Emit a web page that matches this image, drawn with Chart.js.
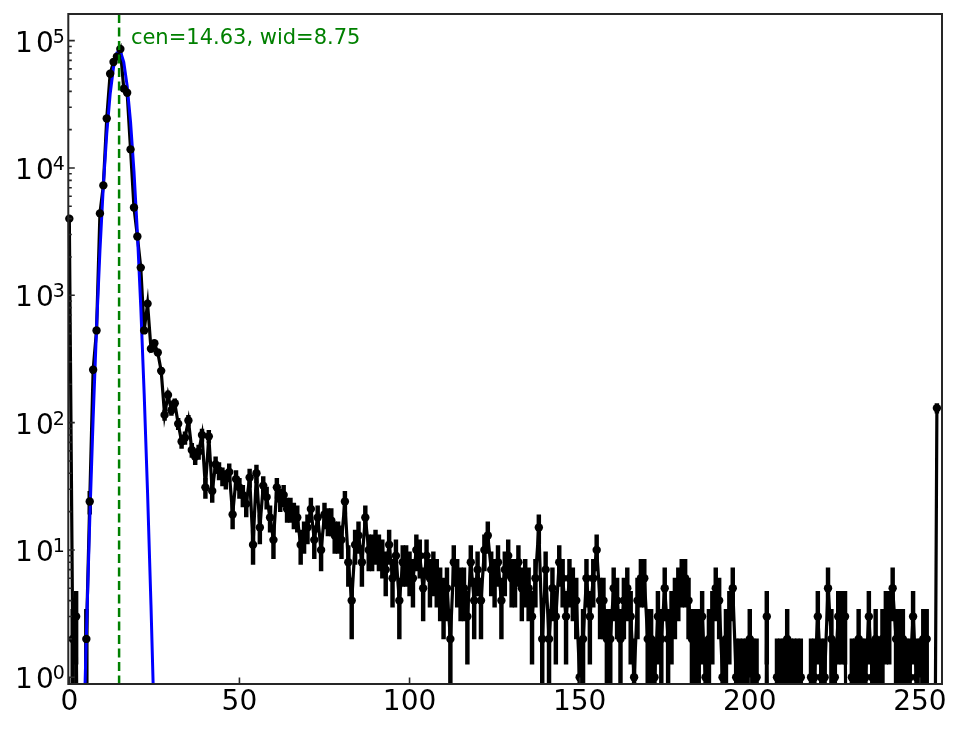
<!DOCTYPE html>
<html>
<head>
<meta charset="utf-8">
<script src="https://cdn.jsdelivr.net/npm/chart.js@4.4.1/dist/chart.umd.min.js"></script>
<style>
    html, body { margin: 0; padding: 0; background: #ffffff; }
    #wrap { width: 964px; height: 729px; }
</style>
</head>
<body>
<div id="wrap"><canvas id="myChart" width="964" height="729"></canvas></div>
<script>
// Histogram counts per bin (bin index = position in the array, 0..255)
const counts = [
    4000, 2, 3, 0, 0, 2, 24, 260, 530, 4400, 7300, 24500, 55000, 68000, 75000, 86000,
    42000, 39000, 14000, 4900, 2900, 1650, 530, 860, 380, 420, 355, 255, 115, 165, 125, 142,
    98, 71, 76, 104, 61, 54, 59, 80, 31, 78, 29, 47, 42, 38, 36, 41,
    19, 36, 31, 27, 23, 37, 11, 40, 15, 32, 26, 18, 12, 31, 25, 27,
    21, 21, 19, 18, 11, 13, 15, 21, 12, 18, 10, 19, 17, 17, 13, 13,
    12, 24, 8, 4, 11, 13, 8, 18, 10, 10, 11, 10, 9, 7, 11, 6,
    9, 4, 8, 8, 7, 6, 10, 9, 5, 9, 6, 7, 6, 5, 4, 5,
    2, 8, 6, 5, 5, 3, 8, 4, 7, 4, 10, 13, 7, 6, 8, 4,
    7, 9, 6, 6, 8, 5, 6, 5, 3, 6, 15, 2, 7, 2, 5, 3,
    8, 6, 3, 6, 5, 4, 1, 2, 6, 3, 6, 10, 4, 4, 2, 2,
    5, 4, 2, 4, 5, 3, 1, 4, 6, 6, 2, 2, 1, 3, 2, 5,
    2, 3, 4, 5, 6, 6, 4, 2, 2, 2, 3, 1, 2, 3, 5, 4,
    1, 2, 3, 5, 1, 1, 1, 1, 2, 1, 1, 0, 0, 3, 0, 0,
    1, 1, 1, 2, 1, 1, 1, 1, 0, 0, 1, 1, 3, 1, 1, 5,
    2, 1, 3, 3, 3, 0, 1, 1, 2, 1, 1, 3, 1, 2, 1, 2,
    3, 3, 5, 2, 2, 2, 1, 1, 3, 1, 1, 2, 2, 0, 0, 130
];

// Gaussian fit (cen=14.63, wid=8.75), values at the bins where it is visible
const fitBins = [4, 5, 6, 7, 8, 9, 10, 11, 12, 13, 14, 15, 16, 17, 18, 19, 20, 21, 22, 23, 24, 25];
const fitValues = [0.21, 2.1, 17, 108, 553, 2240, 7250, 18600, 38100, 62000, 80300, 82700,
    67800, 44200, 22900, 9470, 3110, 814, 169, 28, 3.7, 0.39];

const fitCen = 14.63;
const annotText = "cen=14.63, wid=8.75";
const annotX = 18.1;
const annotY = 94300;

const xTickValues = [0, 50, 100, 150, 200, 250];
const xTickLabels = ["0", "50", "100", "150", "200", "250"];
const yTickValues = [1, 10, 100, 1000, 10000, 100000];
const yTickExps = ["0", "1", "2", "3", "4", "5"];

// empty bins sit far below the axis, like a clipped log plot
const FLOOR = 1e-3;
const points = counts.map((c, i) => ({ x: i, y: c > 0 ? c : FLOOR }));
const errBars = counts
    .map((c, i) => {
        const e = Math.sqrt(c);
        const lo = c - e > 0 ? c - e : FLOOR;
        return { x: i, y: [lo, c + e] };
    })
    .filter((d, i) => counts[i] > 0);
const fitPoints = fitBins.map((b, i) => ({ x: b, y: fitValues[i] }));

const FRAME = "#262626";
const FONT = '"DejaVu Sans"';
const CLIP = { left: 8, right: 8, top: 8, bottom: 0 };

// frame, inward ticks, y labels, fit centre line and label
const decorPlugin = {
    id: "decor",
    afterDatasetsDraw(chart) {
        const ctx = chart.ctx;
        const area = chart.chartArea;
        const xs = chart.scales.x;
        const ys = chart.scales.y;
        ctx.save();
        ctx.beginPath();
        ctx.rect(area.left, area.top, area.right - area.left, area.bottom - area.top);
        ctx.clip();
        const cx = xs.getPixelForValue(fitCen);
        ctx.strokeStyle = "#008000";
        ctx.lineWidth = 2.5;
        ctx.setLineDash([9, 4.5]);
        ctx.beginPath();
        ctx.moveTo(cx, area.top);
        ctx.lineTo(cx, area.bottom);
        ctx.stroke();
        ctx.restore();

        ctx.save();
        ctx.font = "21px " + FONT;
        ctx.fillStyle = "#008000";
        ctx.textBaseline = "alphabetic";
        ctx.textAlign = "left";
        ctx.fillText(annotText, xs.getPixelForValue(annotX), ys.getPixelForValue(annotY));
        ctx.restore();
    },
    afterDraw(chart) {
        const ctx = chart.ctx;
        const area = chart.chartArea;
        const xs = chart.scales.x;
        const ys = chart.scales.y;
        ctx.save();
        ctx.strokeStyle = FRAME;
        ctx.lineWidth = 1.6;
        ctx.beginPath();
        xTickValues.forEach(v => {
            const px = xs.getPixelForValue(v);
            ctx.moveTo(px, area.bottom);
            ctx.lineTo(px, area.bottom - 6.5);
        });
        yTickValues.forEach(v => {
            const py = ys.getPixelForValue(v);
            ctx.moveTo(area.left, py);
            ctx.lineTo(area.left + 6.5, py);
            for (let m = 2; m <= 9; m++) {
                const mv = v * m;
                if (mv > ys.max) break;
                const my = ys.getPixelForValue(mv);
                ctx.moveTo(area.left, my);
                ctx.lineTo(area.left + 3.5, my);
            }
        });
        ctx.stroke();
        ctx.lineWidth = 2;
        ctx.strokeRect(area.left, area.top, area.right - area.left, area.bottom - area.top);

        // y labels as 10 with a raised exponent
        ctx.fillStyle = "#000000";
        ctx.textAlign = "right";
        ctx.textBaseline = "alphabetic";
        const right = area.left - 3.5;
        yTickValues.forEach((v, i) => {
            const py = ys.getPixelForValue(v);
            ctx.font = "19px " + FONT;
            ctx.fillText(yTickExps[i], right, py + 2);
            const ew = ctx.measureText(yTickExps[i]).width;
            ctx.font = "28px " + FONT;
            const x0 = right - ew + 1;
            ctx.fillText("0", x0, py + 11);
            const zw = ctx.measureText("0").width;
            ctx.fillText("1", x0 - zw - 3, py + 11);
        });
        ctx.restore();
    }
};

new Chart(document.getElementById("myChart"), {
    type: "line",
    data: {
        datasets: [
            {
                // markers on top
                data: points,
                showLine: false,
                pointRadius: c => (counts[c.dataIndex] > 0 ? 4.2 : 0),
                pointBackgroundColor: "#000000",
                pointBorderWidth: 0,
                clip: CLIP,
            },
            {
                data: fitPoints,
                borderColor: "#0000ff",
                borderWidth: 3,
                pointRadius: 0,
                tension: 0,
                clip: 0,
            },
            {
                data: points,
                borderColor: "#000000",
                borderWidth: 3.2,
                pointRadius: 0,
                tension: 0,
                clip: CLIP,
            },
            {
                type: "bar",
                data: errBars,
                backgroundColor: "#000000",
                borderWidth: 0,
                barThickness: 3.8,
                grouped: false,
                clip: 0,
            },
        ],
    },
    options: {
        responsive: false,
        animation: false,
        events: [],
        layout: { padding: { top: 14, right: 22, left: 0, bottom: 0 } },
        plugins: {
            legend: { display: false },
            tooltip: { enabled: false },
        },
        scales: {
            x: {
                type: "linear",
                min: -0.3,
                max: 256.5,
                offset: false,
                grid: { display: false, drawTicks: false },
                border: { display: false },
                ticks: {
                    autoSkip: false,
                    maxRotation: 0,
                    padding: 2,
                    color: "#000000",
                    font: { family: "DejaVu Sans", size: 28 },
                    callback: v => xTickLabels[xTickValues.indexOf(v)],
                },
                afterBuildTicks: s => { s.ticks = xTickValues.map(v => ({ value: v })); },
                afterFit: s => { s.height = 45; s.paddingLeft = 0; s.paddingRight = 0; },
            },
            y: {
                type: "logarithmic",
                min: 0.885,
                max: 162000,
                grid: { display: false, drawTicks: false },
                border: { display: false },
                ticks: { display: false },
                afterBuildTicks: s => { s.ticks = yTickValues.map(v => ({ value: v })); },
                afterFit: s => { s.width = 68.3; s.paddingTop = 0; s.paddingBottom = 0; },
            },
        },
    },
    plugins: [decorPlugin],
});
</script>
</body>
</html>
